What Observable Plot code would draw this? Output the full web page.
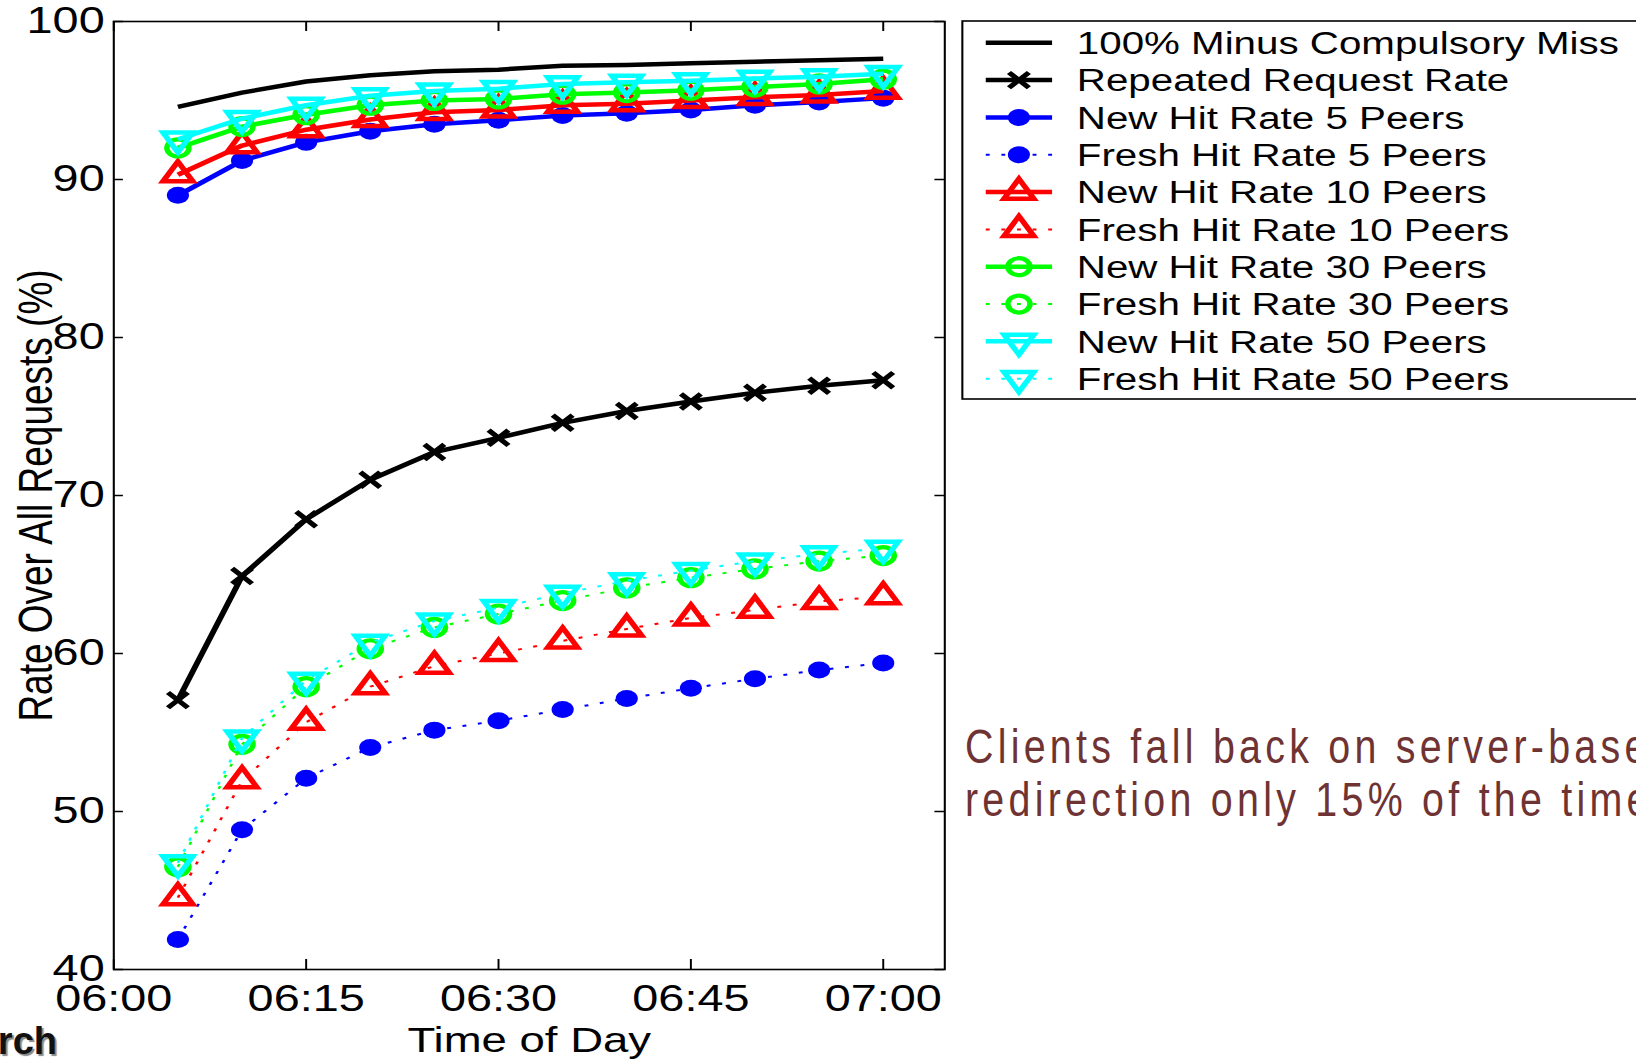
<!DOCTYPE html>
<html>
<head>
<meta charset="utf-8">
<script src="https://cdn.jsdelivr.net/npm/d3@7"></script>
<script src="https://cdn.jsdelivr.net/npm/@observablehq/plot@0.6"></script>
<style>
html, body { margin: 0; padding: 0; background: #fff; overflow: hidden; }
#wrap { position: relative; width: 1636px; height: 1060px; overflow: hidden; background: #fff; }
#chart { position: absolute; left: 0; top: 0; }
#note { position: absolute; left: 965px; top: 720px; font-family: "Liberation Sans", Arial, sans-serif;
        font-size: 48px; line-height: 53px; letter-spacing: 5.2px; color: #6f3333; white-space: nowrap;
        transform: scaleX(0.82); transform-origin: 0 0; }
#logo { position: absolute; left: -243px; width: 300px; top: 1022px; text-align: right; font-family: "Liberation Sans", Arial, sans-serif;
        font-weight: 900; font-size: 38px; line-height: 38px; letter-spacing: 0px; color: #111; text-shadow: 2px 2px 1px #888; white-space: nowrap; }
</style>
</head>
<body>
<div id="wrap">
  <div id="chart"></div>
  <div id="note">Clients fall back on server-based<br>redirection only 15% of the time</div>
  <div id="logo">Research</div>
</div>
<script>
// ---------------- data ----------------
const times = ["06:05","06:10","06:15","06:20","06:25","06:30","06:35","06:40","06:45","06:50","06:55","07:00"];
const xTickLabels = ["06:00","06:15","06:30","06:45","07:00"];
const xDomainLabels = ["06:00","07:04:48"];
const yTicks = [40, 50, 60, 70, 80, 90, 100];

const seriesNames = [
  "100% Minus Compulsory Miss",
  "Repeated Request Rate",
  "New Hit Rate 5 Peers",
  "Fresh Hit Rate 5 Peers",
  "New Hit Rate 10 Peers",
  "Fresh Hit Rate 10 Peers",
  "New Hit Rate 30 Peers",
  "Fresh Hit Rate 30 Peers",
  "New Hit Rate 50 Peers",
  "Fresh Hit Rate 50 Peers"
];

const minusCompulsory = [94.6, 95.5, 96.2, 96.6, 96.85, 96.95, 97.2, 97.25, 97.35, 97.45, 97.55, 97.65];
const repeatedRequest = [57.05, 64.9, 68.5, 71.0, 72.75, 73.65, 74.6, 75.35, 75.95, 76.5, 76.95, 77.3];
const newHit5   = [89.0, 91.2, 92.35, 93.05, 93.5, 93.75, 94.05, 94.2, 94.4, 94.7, 94.9, 95.15];
const freshHit5 = [41.9, 48.85, 52.1, 54.05, 55.15, 55.75, 56.45, 57.15, 57.8, 58.4, 58.95, 59.4];
const newHit10   = [90.3, 92.15, 93.15, 93.8, 94.25, 94.4, 94.7, 94.8, 95.0, 95.2, 95.35, 95.6];
const freshHit10 = [44.55, 51.95, 55.65, 57.9, 59.2, 60.0, 60.8, 61.55, 62.25, 62.75, 63.3, 63.6];
const newHit30   = [92.0, 93.35, 94.1, 94.7, 95.0, 95.1, 95.4, 95.5, 95.65, 95.85, 96.05, 96.35];
const freshHit30 = [46.5, 54.25, 57.9, 60.3, 61.65, 62.5, 63.35, 64.15, 64.8, 65.35, 65.85, 66.2];
const newHit50   = [92.55, 93.85, 94.7, 95.3, 95.6, 95.75, 96.05, 96.15, 96.25, 96.4, 96.5, 96.7];
const freshHit50 = [46.75, 54.65, 58.3, 60.7, 62.05, 62.9, 63.8, 64.6, 65.25, 65.85, 66.3, 66.65];

const seriesValues = [minusCompulsory, repeatedRequest, newHit5, freshHit5, newHit10, freshHit10, newHit30, freshHit30, newHit50, freshHit50];
const seriesColors = ["#000000","#000000","#0000ff","#0000ff","#ff0000","#ff0000","#00ff00","#00ff00","#00ffff","#00ffff"];
const seriesMarkers = [null, "times", "dot", "dot", "triUp", "triUp", "ring", "ring", "triDown", "triDown"];
const seriesDotted = [false, false, false, true, false, true, false, true, false, true];

// ---------------- layout (native, before horizontal stretch) ----------------
const FULL_W = 1636, H = 1060;
const W = 1258;                 // native width; stretched to 1636
const mLeft = 87, mRight = 532, mTop = 21, mBottom = 91;
const plotW = W - mLeft - mRight, plotH = H - mTop - mBottom;
const FONT = '"Liberation Sans", Arial, Helvetica, sans-serif';

const parseT = d3.utcParse("%H:%M");
const parseTS = s => d3.utcParse("%H:%M:%S")(s) || parseT(s);
const xDates = times.map(parseT);
const xTicks = xTickLabels.map(parseT);
const xDomain = xDomainLabels.map(parseTS);

const triangleDown = {
  draw(context, size) {
    const y = -Math.sqrt(size / (Math.sqrt(3) * 3));
    context.moveTo(0, -y * 2);
    context.lineTo(-Math.sqrt(3) * y, y);
    context.lineTo(Math.sqrt(3) * y, y);
    context.closePath();
  }
};

function markerStyle(kind, color) {
  switch (kind) {
    case "times":   return {symbol: "times", r: 7, fill: "none", stroke: color, strokeWidth: 4.5};
    case "dot":     return {symbol: "circle", r: 8.5, fill: color, stroke: "none", strokeWidth: 0};
    case "triUp":   return {symbol: "triangle", r: 8.5, fill: "none", stroke: color, strokeWidth: 4.5};
    case "ring":    return {symbol: "circle", r: 8.5, fill: "none", stroke: color, strokeWidth: 4.2};
    case "triDown": return {symbol: triangleDown, r: 8.5, fill: "none", stroke: color, strokeWidth: 4.5};
  }
  return null;
}
function lineStyle(dotted, color) {
  return dotted
    ? {stroke: color, strokeWidth: 2, strokeDasharray: "3,9"}
    : {stroke: color, strokeWidth: 4.5, strokeDasharray: null};
}

const marks = [];
seriesValues.forEach((vals, i) => {
  const data = vals.map((v, j) => ({t: xDates[j], v}));
  const ls = lineStyle(seriesDotted[i], seriesColors[i]);
  marks.push(Plot.line(data, {x: "t", y: "v", stroke: ls.stroke, strokeWidth: ls.strokeWidth,
    strokeDasharray: ls.strokeDasharray, strokeLinejoin: "round", strokeLinecap: "butt"}));
  const ms = markerStyle(seriesMarkers[i], seriesColors[i]);
  if (ms) marks.push(Plot.dot(data, {x: "t", y: "v", ...ms}));
});

const chart = Plot.plot({
  width: W, height: H,
  marginLeft: mLeft, marginRight: mRight, marginTop: mTop, marginBottom: mBottom,
  style: {fontFamily: FONT, fontSize: "36px", color: "#000", background: "transparent", overflow: "visible"},
  x: {type: "utc", domain: xDomain},
  y: {domain: [40, 100]},
  marks: [
    ...marks,
    // inward ticks on all four sides (MATLAB box style)
    Plot.tickY(yTicks, {y: d => d, stroke: "#000", strokeWidth: 1.5, insetRight: plotW - 7.5}),
    Plot.tickY(yTicks, {y: d => d, stroke: "#000", strokeWidth: 1.5, insetLeft: plotW - 7.5}),
    Plot.tickX(xTicks, {x: d => d, stroke: "#000", strokeWidth: 1.5, insetTop: plotH - 10}),
    Plot.tickX(xTicks, {x: d => d, stroke: "#000", strokeWidth: 1.5, insetBottom: plotH - 10}),
    Plot.frame({stroke: "#000", strokeWidth: 1.6}),
    Plot.axisY({ticks: yTicks, tickSize: 0, tickPadding: 7, label: null, fontSize: 36}),
    Plot.axisX({ticks: xTicks, tickFormat: d3.utcFormat("%H:%M"), tickSize: 0, tickPadding: 16, label: null, fontSize: 36}),
    Plot.text(["Time of Day"], {text: d => d, frameAnchor: "bottom", dy: 71, fontSize: 35, lineAnchor: "middle", textAnchor: "middle", fill: "#000"}),
    Plot.text(["Rate Over All Requests (%)"], {text: d => d, frameAnchor: "left", dx: -59, rotate: -90, fontSize: 37, lineAnchor: "middle", textAnchor: "middle", fill: "#000"})
  ]
});

// stretch horizontally like the reference picture
chart.setAttribute("preserveAspectRatio", "none");
chart.setAttribute("width", FULL_W);
chart.setAttribute("height", H);
chart.style.width = FULL_W + "px";
chart.style.height = H + "px";
chart.style.maxWidth = "none";

// ---------------- legend (inside the same svg, native coords) ----------------
const lg = d3.select(chart).append("g").attr("class", "legend").attr("text-anchor", "start");
const lgX = 740, lgY = 21, lgH = 378, rowY0 = 42.8, rowStep = 37.32;
const sampleX1 = 758, sampleX2 = 809, textX = 828;
lg.append("rect").attr("x", lgX).attr("y", lgY).attr("width", 700).attr("height", lgH)
  .attr("fill", "#fff").attr("stroke", "#000").attr("stroke-width", 1.6);
seriesNames.forEach((name, i) => {
  const y = rowY0 + i * rowStep;
  const ls = lineStyle(seriesDotted[i], seriesColors[i]);
  lg.append("line").attr("x1", sampleX1).attr("x2", sampleX2).attr("y1", y).attr("y2", y)
    .attr("stroke", ls.stroke).attr("stroke-width", ls.strokeWidth)
    .attr("stroke-dasharray", ls.strokeDasharray);
  const ms = markerStyle(seriesMarkers[i], seriesColors[i]);
  if (ms) {
    const type = ms.symbol === "times" ? d3.symbolTimes : ms.symbol === "triangle" ? d3.symbolTriangle
               : ms.symbol === "circle" ? d3.symbolCircle : ms.symbol;
    lg.append("path").attr("d", d3.symbol(type, Math.PI * ms.r * ms.r)())
      .attr("transform", `translate(${(sampleX1 + sampleX2) / 2},${y})`)
      .attr("fill", ms.fill).attr("stroke", ms.stroke).attr("stroke-width", ms.strokeWidth);
  }
  lg.append("text").attr("x", textX).attr("y", y).attr("dy", "0.36em").attr("text-anchor", "start")
    .attr("font-family", FONT).attr("font-size", 31).attr("fill", "#000").text(name);
});

document.getElementById("chart").appendChild(chart);
</script>
</body>
</html>
